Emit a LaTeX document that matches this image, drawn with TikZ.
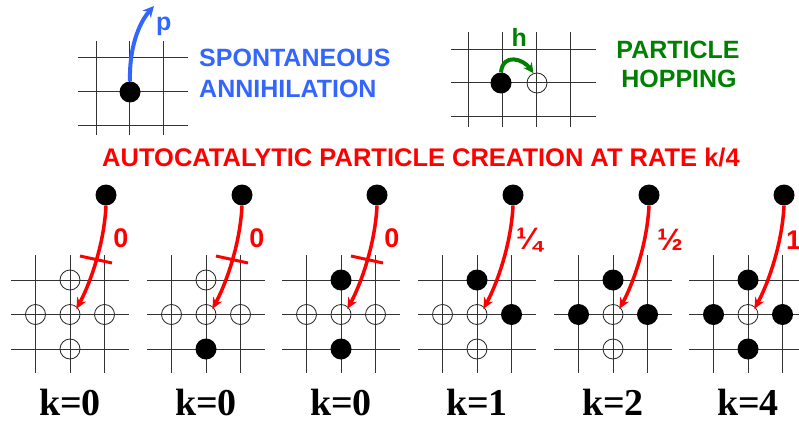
\documentclass[tikz,border=0pt]{standalone}
\usepackage{fontspec}
\setmainfont{Liberation Sans}
\newfontfamily\serifb{Liberation Serif}
\usetikzlibrary{arrows.meta}
\definecolor{myblue}{RGB}{51,102,255}
\definecolor{mygreen}{RGB}{0,128,0}
\definecolor{myred}{RGB}{255,0,0}
\tikzset{
  gridline/.style={black!80, line width=1pt},
  occ/.style={circle, fill=black, inner sep=0pt, minimum size=21pt},
  vac/.style={circle, draw=black!85, line width=0.8pt, inner sep=0pt, minimum size=20pt},
  redarrow/.style={myred, line width=3.5pt, -{Stealth[length=11pt,width=10pt]}},
  bluearrow/.style={myblue, line width=4pt, -{Stealth[length=11pt,width=11pt]}},
  greenarrow/.style={mygreen, line width=4pt, -{Stealth[length=10pt,width=10pt]}},
  crossbar/.style={myred, line width=3pt},
  bigtext/.style={font=\fontsize{25}{30}\selectfont\bfseries, inner sep=0pt},
  ratelabel/.style={myred, font=\fontsize{27}{30}\selectfont\bfseries, inner sep=0pt},
  fraclabel/.style={myred, font=\fontsize{31}{34}\selectfont\bfseries, inner sep=0pt},
  klabel/.style={font=\serifb\fontsize{38}{40}\selectfont\bfseries, inner sep=0pt}
}
\begin{document}
\begin{tikzpicture}[x=1pt, y=-1pt]
\useasboundingbox (0,0) rectangle (799,422);

% ---------- spontaneous annihilation ----------
\foreach \x in {96,129.5,163} \draw[gridline] (\x,41) -- (\x,135);
\foreach \y in {58,92,126} \draw[gridline] (78,\y) -- (188,\y);
\node[occ] (a) at (130,92) {};
\coordinate (pend) at (154,6);
\draw[bluearrow] (a.north) .. controls (129,50) and (138,24) .. (pend);
\node[bigtext, myblue, anchor=base west] (p) at (156,31) {p};
\node[bigtext, myblue, anchor=base west] (sp1) at (199,67) {SPONTANEOUS};
\node[bigtext, myblue, anchor=base west] (sp2) at (199,98) {ANNIHILATION};

% ---------- particle hopping ----------
\foreach \x in {468,502,536,570} \draw[gridline] (\x,32) -- (\x,127);
\foreach \y in {50,83,117} \draw[gridline] (451,\y) -- (596,\y);
\node[occ] (hb) at (501,83) {};
\node[vac] (ho) at (537,83) {};
\draw[greenarrow] (hb.north) .. controls +(2,-20) and +(-10,-14) .. (ho.110);
\node[bigtext, mygreen, anchor=base west] (h) at (511.5,47) {h};
\node[bigtext, mygreen, anchor=base] (ph1) at (678,59) {PARTICLE};
\node[bigtext, mygreen, anchor=base] (ph2) at (679,88) {HOPPING};

% ---------- title ----------
\node[myred, font=\fontsize{25.5}{30}\selectfont\bfseries, inner sep=0pt, anchor=base] (title) at (421,166) {AUTOCATALYTIC PARTICLE CREATION AT RATE k/4};

% ---------- bottom panels: grids, top particle, centre site, arrow ----------
\foreach \c [count=\n] in {70,206,341,477,613,748} {
  \foreach \dx in {-34.5,0,34.5} \draw[gridline] (\c+\dx,255) -- (\c+\dx,373);
  \foreach \y in {280,314.5,349} \draw[gridline] (\c-59,\y) -- (\c+59,\y);
  \node[occ] (t\n) at (\c+36,195) {};
  \node[vac] (c\n) at (\c,314.5) {};
}

% neighbours: up (u), left (l), right (r), down (d)
\node[vac] (u1) at (70,280) {};   \node[vac] (l1) at (35.5,314.5) {};
\node[vac] (r1) at (104.5,314.5) {}; \node[vac] (d1) at (70,349) {};

\node[vac] (u2) at (206,280) {};  \node[vac] (l2) at (171.5,314.5) {};
\node[vac] (r2) at (240.5,314.5) {}; \node[occ] (d2) at (206,349) {};

\node[occ] (u3) at (341,280) {};  \node[vac] (l3) at (306.5,314.5) {};
\node[vac] (r3) at (375.5,314.5) {}; \node[occ] (d3) at (341,349) {};

\node[occ] (u4) at (477,280) {};  \node[vac] (l4) at (442.5,314.5) {};
\node[occ] (r4) at (511.5,314.5) {}; \node[vac] (d4) at (477,349) {};

\node[occ] (u5) at (613,280) {};  \node[occ] (l5) at (578.5,314.5) {};
\node[occ] (r5) at (647.5,314.5) {}; \node[vac] (d5) at (613,349) {};

\node[occ] (u6) at (748,280) {};  \node[occ] (l6) at (713.5,314.5) {};
\node[occ] (r6) at (782.5,314.5) {}; \node[occ] (d6) at (748,349) {};

% red arrows
\foreach \n in {1,...,6}
  \draw[redarrow, shorten >=-2pt] (t\n.south) .. controls +(-2,40) and +(12,-22) .. (c\n.45);

% crossed-out arrows
\foreach \c in {70,206,341} \draw[crossbar] (\c+10,256) -- (\c+42,263);

% rate labels
\node[ratelabel, anchor=base] (z1) at (121,247) {0};
\node[ratelabel, anchor=base] (z2) at (257,247) {0};
\node[ratelabel, anchor=base] (z3) at (392,247) {0};
\node[fraclabel, anchor=base] (q4) at (529,249) {¼};
\node[fraclabel, anchor=base] (q5) at (670,250) {½};
\node[ratelabel, anchor=base west] (q6) at (786,249) {1};

% k labels
\node[klabel, anchor=base] (k1) at (70,415) {k=0};
\node[klabel, anchor=base] (k2) at (206,415) {k=0};
\node[klabel, anchor=base] (k3) at (341,415) {k=0};
\node[klabel, anchor=base] (k4) at (477,415) {k=1};
\node[klabel, anchor=base] (k5) at (613,415) {k=2};
\node[klabel, anchor=base] (k6) at (748,415) {k=4};
\end{tikzpicture}
\end{document}
